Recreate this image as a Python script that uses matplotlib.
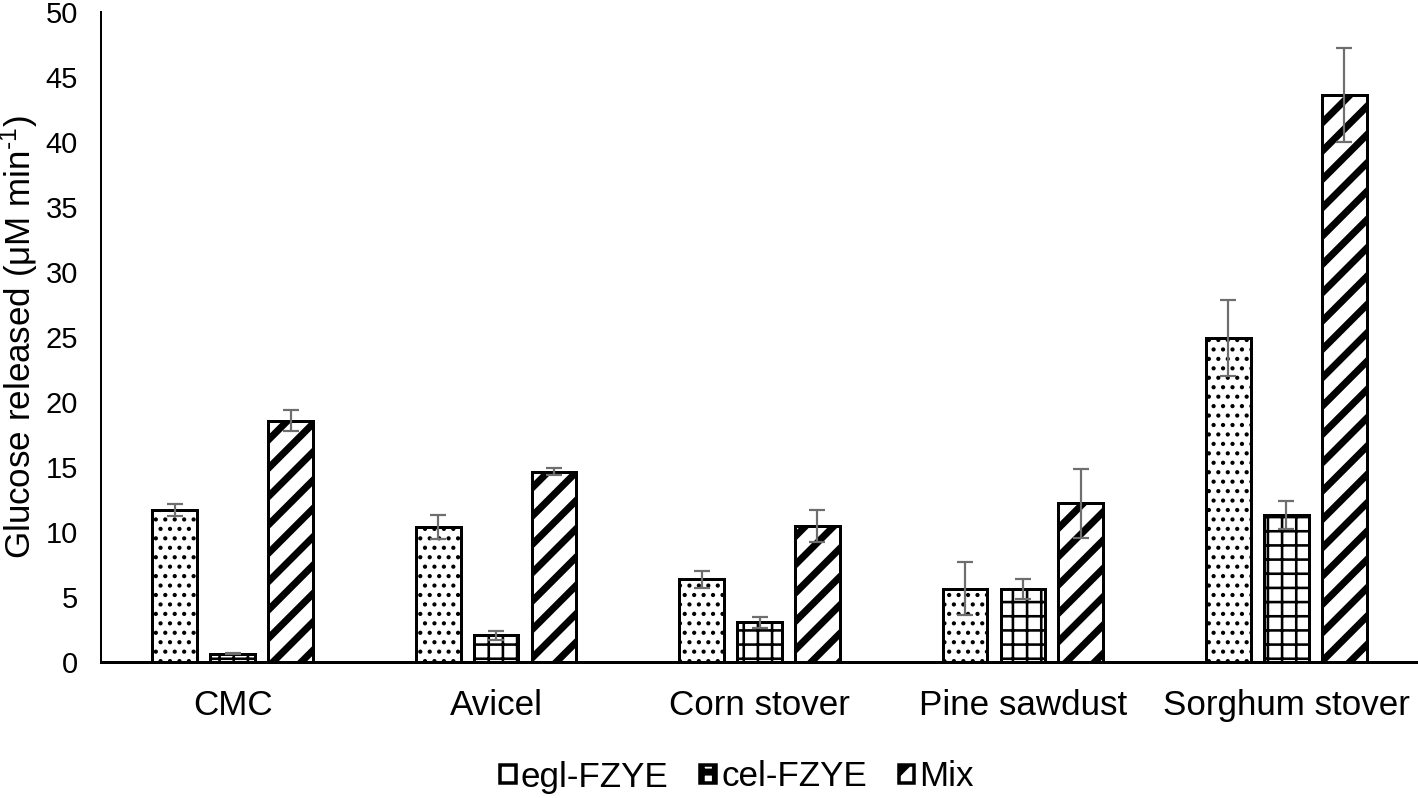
import matplotlib
matplotlib.use("Agg")
import matplotlib.pyplot as plt
import numpy as np
from matplotlib.patches import Patch

# ---------------- data ----------------
categories = ["CMC", "Avicel", "Corn stover", "Pine sawdust", "Sorghum stover"]
series_names = ["egl-FZYE", "cel-FZYE", "Mix"]
egl = [11.7, 10.4, 6.35, 5.65, 24.95]
egl_err = [0.47, 0.92, 0.67, 2.05, 2.93]
cel = [0.65, 2.05, 3.05, 5.6, 11.3]
cel_err = [0.05, 0.35, 0.42, 0.75, 1.07]
mix = [18.55, 14.64, 10.45, 12.2, 43.6]
mix_err = [0.8, 0.25, 1.23, 2.65, 3.6]
yticks = [0, 5, 10, 15, 20, 25, 30, 35, 40, 45, 50]
ylabel = "Glucose released (μM min$^{\\mathregular{\u20101}}$)"

# ---------------- style ----------------
DPI = 170
PT = 72.0 / DPI  # points per pixel
plt.rcParams["font.family"] = ["Liberation Sans", "DejaVu Sans"]
plt.rcParams["mathtext.fontset"] = "custom"
plt.rcParams["mathtext.rm"] = "Liberation Sans"
plt.rcParams["mathtext.it"] = "Liberation Sans:italic"
plt.rcParams["hatch.color"] = "black"

fig = plt.figure(figsize=(1418 / DPI, 798 / DPI), dpi=DPI)
ax = fig.add_axes([101 / 1418, 1 - 662 / 798, 1 - 101 / 1418, (662 - 12) / 798])

x = np.arange(len(categories))
offset = 0.22
width = 0.17
hatches = ["...", "++", "//"]
legend_hatches = [".", "++", "//"]
hatch_lws = [2.3 * PT, 2.6 * PT, 7.0 * PT]
values = [egl, cel, mix]
errors = [egl_err, cel_err, mix_err]

handles = []
for i, (vals, errs) in enumerate(zip(values, errors)):
    plt.rcParams["hatch.linewidth"] = hatch_lws[i]
    bars = ax.bar(x + (i - 1) * offset, vals, width, color="white",
                  edgecolor="black", linewidth=3 * PT, hatch=hatches[i], zorder=2)
    for b in bars:
        if hasattr(b, "set_hatch_linewidth"):
            b.set_hatch_linewidth(hatch_lws[i])
    ax.errorbar(x + (i - 1) * offset, vals, yerr=errs, fmt="none",
                ecolor="#6e6e6e", elinewidth=2.2 * PT, capsize=8 * PT,
                capthick=2.2 * PT, zorder=3)
    h = Patch(facecolor="white", edgecolor="black", linewidth=3.5 * PT,
              hatch=legend_hatches[i], label=series_names[i])
    if hasattr(h, "set_hatch_linewidth"):
        h.set_hatch_linewidth(hatch_lws[i])
    handles.append(h)

ax.set_xlim(-0.5, len(categories) - 0.5)
ax.set_ylim(0, 50)
ax.set_yticks(yticks)
ax.set_xticks(x)
ax.set_xticklabels(categories)
ax.tick_params(axis="x", length=0, pad=27 * PT, labelsize=35 * PT)
ax.tick_params(axis="y", length=0, pad=23 * PT, labelsize=29 * PT)

for s in ["top", "right"]:
    ax.spines[s].set_visible(False)
ax.spines["left"].set_linewidth(2 * PT)
ax.spines["bottom"].set_linewidth(3 * PT)
ax.spines["bottom"].set_zorder(4)

fig.text(19 / 1418, 1 - 337 / 798, ylabel, rotation=90, ha="center",
         va="center", fontsize=35 * PT)

fig.legend(handles=handles, loc="center", bbox_to_anchor=(737 / 1418, 1 - 777 / 798),
           ncol=3, frameon=False, fontsize=35 * PT, handlelength=0.45,
           handleheight=0.45, handletextpad=0.15, columnspacing=0.9,
           borderaxespad=0, borderpad=0)

fig.savefig("out.png", dpi=DPI)
